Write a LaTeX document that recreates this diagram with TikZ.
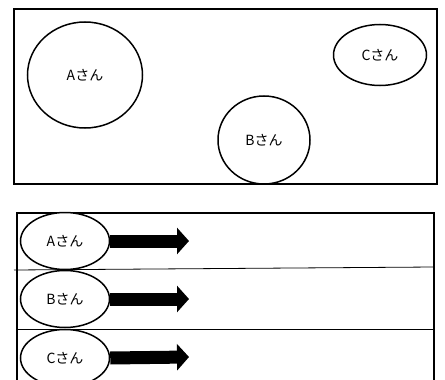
\documentclass[tikz,border=0pt]{standalone}
\usepackage{fontspec}
\newfontfamily\jpfont{Noto Sans CJK JP}
\usetikzlibrary{shapes.geometric, arrows.meta}

\tikzset{
  waku/.style={draw=black, line width=2},
  hito/.style={ellipse, draw=black, line width=1.5, inner sep=0pt, font=\jpfont\fontsize{14}{14}\selectfont},
  gyou/.style={draw=black, line width=0.8},
  yajirushi/.style={line width=13, -{Triangle[length=12,width=26]}}
}

\begin{document}
\begin{tikzpicture}[x=1pt, y=-1pt]
    \useasboundingbox (0,0) rectangle (445,380);
    \clip (0,0) rectangle (445,380);

    % Ue no waku
    \draw[waku] (14,9) rectangle (437,184);

    % Sannin no en
    \node[hito, minimum width=115, minimum height=106] (zuA) at (85,75) {Aさん};
    \node[hito, minimum width=92, minimum height=88] (zuB) at (264,140) {Bさん};
    \node[hito, minimum width=93, minimum height=61] (zuC) at (380,55) {Cさん};

    % Shita no waku (shita wa hirai te iru)
    \draw[waku] (17,390) -- (17,213) -- (434,213) -- (434,390);

    % Gyou no sen
    \draw[gyou] (14,270) -- (434,267);
    \draw[gyou] (17,329) -- (434,329);

    % Yajirushi no saki
    \coordinate (sakiA) at (189,241);
    \coordinate (sakiB) at (189,299);
    \coordinate (sakiC) at (189,357);

    % Gyou goto no hito
    \node[hito, minimum width=89, minimum height=57, fill=white] (gyoA) at (65,241) {Aさん};
    \node[hito, minimum width=89, minimum height=57, fill=white] (gyoB) at (65,299) {Bさん};
    \node[hito, minimum width=89, minimum height=57, fill=white] (gyoC) at (65,358) {Cさん};

    % Yajirushi
    \draw[yajirushi] (gyoA.east) -- (sakiA);
    \draw[yajirushi] (gyoB.east) -- (sakiB);
    \draw[yajirushi] (gyoC.east) -- (sakiC);
\end{tikzpicture}
\end{document}
